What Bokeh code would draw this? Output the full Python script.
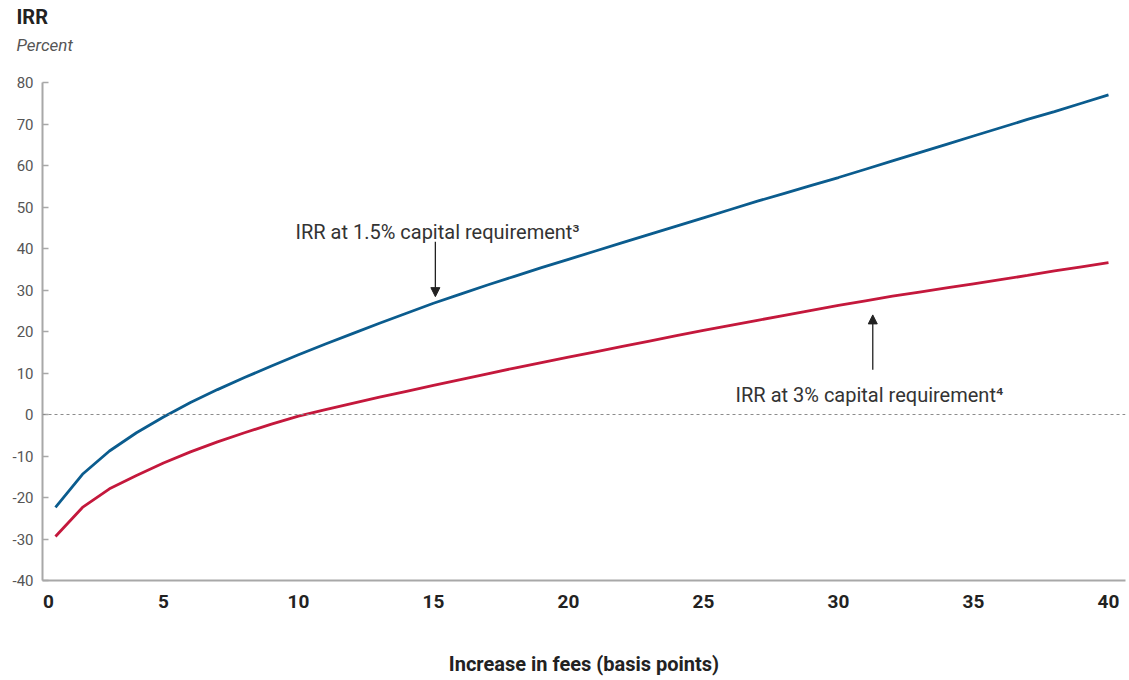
from bokeh.plotting import figure
from bokeh.models import Range1d, FixedTicker, Span, Label, Arrow, NormalHead, Title
from bokeh.embed import file_html
from bokeh.resources import INLINE

# ---- data ----
fees_bp = list(range(1, 41))
irr_cap_15 = [-22.4, -14.4, -8.8, -4.4, -0.6, 2.9, 6.0, 8.9, 11.7, 14.4,
              17.0, 19.5, 22.0, 24.4, 26.8, 29.0, 31.2, 33.3, 35.4, 37.4,
              39.4, 41.4, 43.4, 45.4, 47.4, 49.4, 51.4, 53.3, 55.2, 57.1,
              59.1, 61.1, 63.1, 65.1, 67.1, 69.1, 71.1, 73.0, 75.0, 77.0]
irr_cap_3 = [-29.4, -22.4, -17.9, -14.7, -11.7, -9.0, -6.6, -4.4, -2.3, -0.4,
             1.2, 2.7, 4.2, 5.6, 7.0, 8.4, 9.8, 11.2, 12.5, 13.8,
             15.1, 16.4, 17.7, 19.0, 20.3, 21.5, 22.7, 23.9, 25.1, 26.3,
             27.4, 28.5, 29.5, 30.5, 31.5, 32.5, 33.5, 34.6, 35.6, 36.6]
x_ticks = [0.74, 5, 10, 15, 20, 25, 30, 35, 40]
x_tick_labels = ["0", "5", "10", "15", "20", "25", "30", "35", "40"]
y_ticks = [-40, -30, -20, -10, 0, 10, 20, 30, 40, 50, 60, 70, 80]
y_tick_labels = [str(v) for v in y_ticks]

FONT = "Roboto"
BLUE = "#0b5c8e"
RED = "#c4183c"
AXIS_GRAY = "#a8a8a8"

p = figure(width=1127, height=678, output_backend="svg", toolbar_location=None,
           x_range=Range1d(0.52, 40.63), y_range=Range1d(-40, 80),
           min_border_left=42, min_border_right=2, min_border_top=82,
           min_border_bottom=96)
p.outline_line_color = None
p.xgrid.grid_line_color = None
p.ygrid.grid_line_color = None
p.background_fill_color = "white"

# titles (first added sits closest to the frame)
p.add_layout(Title(text="Percent", align="left", offset=-26, text_font=FONT,
                   text_font_size="17px", text_font_style="italic",
                   text_color="#555555", standoff=55), "above")
p.add_layout(Title(text="IRR", align="left", offset=-26, text_font=FONT,
                   text_font_size="20px", text_font_style="bold",
                   text_color="#222222", standoff=-47), "above")

# zero line
p.add_layout(Span(location=0, dimension="width", line_color="#8c8c8c",
                  line_dash="3 3", line_width=1))

p.line(fees_bp, irr_cap_15, line_color=BLUE, line_width=2.8)
p.line(fees_bp, irr_cap_3, line_color=RED, line_width=2.8)

# y axis
ya = p.yaxis[0]
ya.ticker = FixedTicker(ticks=y_ticks)
ya.major_label_overrides = {t: s for t, s in zip(y_ticks, y_tick_labels)}
ya.axis_line_color = AXIS_GRAY
ya.axis_line_width = 2
ya.major_tick_line_color = AXIS_GRAY
ya.major_tick_line_width = 1.5
ya.major_tick_in = 6
ya.major_tick_out = 0
ya.minor_tick_line_color = None
ya.major_label_text_font = FONT
ya.major_label_text_font_size = "15px"
ya.major_label_text_color = "#555555"
ya.major_label_standoff = 9

# x axis
xa = p.xaxis[0]
xa.ticker = FixedTicker(ticks=x_ticks)
xa.major_label_overrides = {t: s for t, s in zip(x_ticks, x_tick_labels)}
xa.axis_line_color = AXIS_GRAY
xa.axis_line_width = 2
xa.major_tick_line_color = None
xa.minor_tick_line_color = None
xa.major_label_text_font = FONT
xa.major_label_text_font_size = "19px"
xa.major_label_text_font_style = "bold"
xa.major_label_text_color = "#222222"
xa.major_label_standoff = 8
xa.axis_label = "Increase in fees (basis points)"
xa.axis_label_text_font = FONT
xa.axis_label_text_font_size = "20px"
xa.axis_label_text_font_style = "bold"
xa.axis_label_text_color = "#222222"
xa.axis_label_standoff = 41

# annotations
p.add_layout(Label(x=9.89, y=44.0, text="IRR at 1.5% capital requirement\u00b3",
                   text_font=FONT, text_font_size="20px", text_color="#333333",
                   text_baseline="alphabetic"))
p.add_layout(Label(x=26.19, y=4.8, text="IRR at 3% capital requirement\u2074",
                   text_font=FONT, text_font_size="20px", text_color="#333333",
                   text_baseline="alphabetic"))
p.add_layout(Arrow(x_start=15.07, y_start=41.6, x_end=15.07, y_end=28.4,
                   line_color="#222222", line_width=1.3,
                   end=NormalHead(size=9, fill_color="#222222", line_color="#222222")))
p.add_layout(Arrow(x_start=31.27, y_start=10.8, x_end=31.27, y_end=24.0,
                   line_color="#222222", line_width=1.3,
                   end=NormalHead(size=9, fill_color="#222222", line_color="#222222")))

open("out.html", "w").write(file_html(p, INLINE))
